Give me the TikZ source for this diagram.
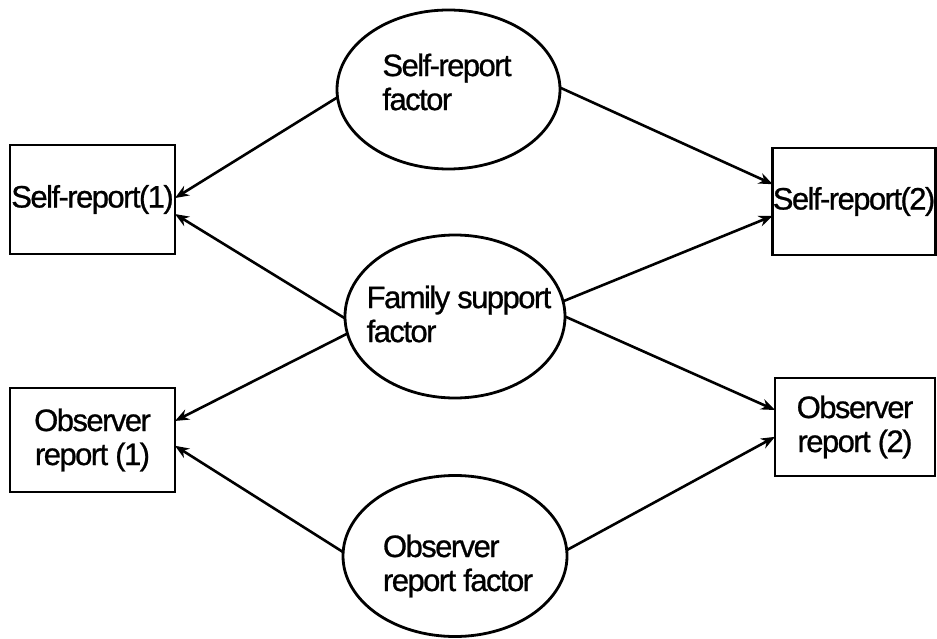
\documentclass[tikz,border=0pt]{standalone}
\usepackage{fontspec}
\setmainfont{Liberation Sans}[LetterSpace=-5,FakeBold=0.8]
\usetikzlibrary{shapes.geometric,arrows.meta}
\begin{document}
\begin{tikzpicture}[x=1pt,y=-1pt,
  every node/.style={font=\fontsize{31}{34}\selectfont},
  measure/.style={draw, line width=2.8pt, rectangle, inner sep=0pt, outer sep=0pt, align=center},
  factor/.style={draw, line width=2.8pt, ellipse, inner sep=0pt, outer sep=0pt},
  ftext/.style={align=left, inner sep=0pt},
  link/.style={line width=2.6pt, -{Stealth[length=14pt,width=11pt]}}]
\useasboundingbox (0,0) rectangle (937,639);

% observed measures
\node[measure, minimum width=165pt, minimum height=109pt] (sr1) at (92.5,199.5) {Self-report(1)};
\node[measure, minimum width=162pt, minimum height=107pt] (sr2) at (854,201.5) {Self-report(2)};
\node[measure, minimum width=165pt, minimum height=104pt] (or1) at (92.5,440) {Observer\\report (1)};
\node[measure, minimum width=160pt, minimum height=98pt] (or2) at (855,427) {Observer\\report (2)};

% latent factors
\node[factor, minimum width=223pt, minimum height=159pt] (srf) at (448.5,89.5) {};
\node[factor, minimum width=220pt, minimum height=163pt] (fsf) at (455,316.5) {};
\node[factor, minimum width=224pt, minimum height=161pt] (orf) at (455,556) {};

\node[ftext] (srft) at (447,82) {Self-report\\factor};
\node[ftext] (fsft) at (459,314) {Family support\\factor};
\node[ftext] (orft) at (458,566) {Observer\\report factor};

% loadings
\draw[link] (srf.184) -- (sr1.1);
\draw[link] (srf.1) -- (sr2.168.5);
\draw[link] (fsf.181) -- (sr1.-10.5);
\draw[link] (fsf.189) -- (or1.13.6);
\draw[link] (fsf.8) -- (sr2.190.8);
\draw[link] (fsf.0) -- (or2.168);
\draw[link] (orf.178) -- (or1.-4.85);
\draw[link] (orf.3) -- (or2.187.8);
\end{tikzpicture}
\end{document}
